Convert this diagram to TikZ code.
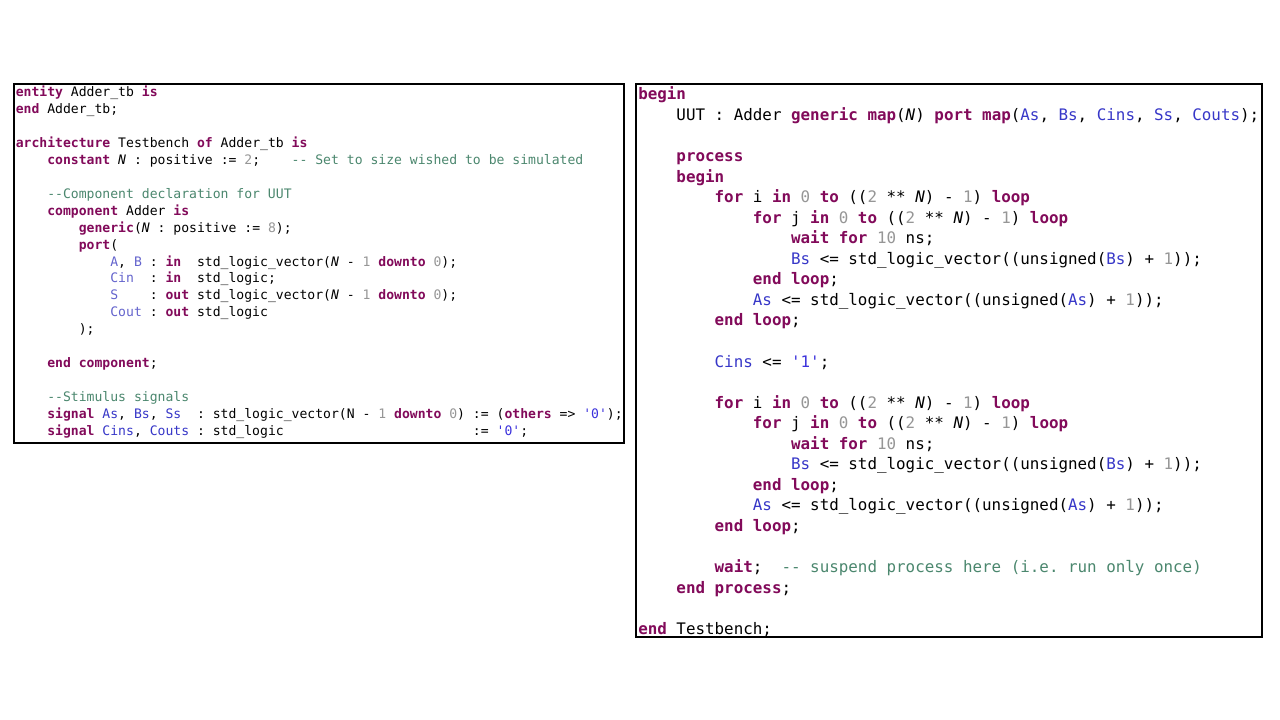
\documentclass[tikz,border=0pt]{standalone}
\usepackage{fontspec}
\setmonofont{DejaVu Sans Mono}
\usepackage{tikz}

\definecolor{kwcol}{RGB}{130,10,90}
\definecolor{sigcol}{RGB}{55,55,200}
\definecolor{prtcol}{RGB}{100,100,205}
\definecolor{chrcol}{RGB}{60,50,220}
\definecolor{nmbcol}{RGB}{150,150,150}
\definecolor{cmtcol}{RGB}{75,135,110}

\newcommand\kw[1]{\textcolor{kwcol}{\bfseries #1}}
\newcommand\sig[1]{\textcolor{sigcol}{#1}}
\newcommand\prt[1]{\textcolor{prtcol}{#1}}
\newcommand\chr[1]{\textcolor{chrcol}{#1}}
\newcommand\nmb[1]{\textcolor{nmbcol}{#1}}
\newcommand\cmt[1]{\textcolor{cmtcol}{#1}}
\newcommand\gN{\textit{N}}
\newcommand\qt{\textquotesingle}
\newcommand\tb{~~~~}

\tikzset{
  panel/.style={draw=black, line width=0.9pt, fill=white},
  lcode/.style={anchor=base west, inner sep=0pt, font=\ttfamily\frenchspacing\fontsize{9.82pt}{12pt}\selectfont},
  rcode/.style={anchor=base west, inner sep=0pt, font=\ttfamily\frenchspacing\fontsize{11.9pt}{14pt}\selectfont}
}

\begin{document}
\begin{tikzpicture}[x=0.75pt, y=-0.75pt]
    \useasboundingbox[fill=white] (0,0) rectangle (1280,720);
    \draw[panel] (14,84) rectangle (624,443);
    \draw[panel] (636,84) rectangle (1262,637);

    \node[lcode] (l1) at (15.5,97.0) {\kw{entity} Adder\_tb \kw{is}};
    \node[lcode] (l2) at (15.5,113.9) {\kw{end} Adder\_tb;};
    \node[lcode] (l4) at (15.5,147.7) {\kw{architecture} Testbench \kw{of} Adder\_tb \kw{is}};
    \node[lcode] (l5) at (15.5,164.6) {\tb\kw{constant} \gN{} : positive := \nmb{2};~~~~\cmt{-{}- Set to size wished to be simulated}};
    \node[lcode] (l7) at (15.5,198.4) {\tb\cmt{-{}-Component declaration for UUT}};
    \node[lcode] (l8) at (15.5,215.3) {\tb\kw{component} Adder \kw{is}};
    \node[lcode] (l9) at (15.5,232.2) {\tb\tb\kw{generic}(\gN{} : positive := \nmb{8});};
    \node[lcode] (l10) at (15.5,249.1) {\tb\tb\kw{port}(};
    \node[lcode] (l11) at (15.5,266.0) {\tb\tb\tb\prt{A}, \prt{B} : \kw{in}~~std\_logic\_vector(\gN{} - \nmb{1} \kw{downto} \nmb{0});};
    \node[lcode] (l12) at (15.5,282.9) {\tb\tb\tb\prt{Cin}~~: \kw{in}~~std\_logic;};
    \node[lcode] (l13) at (15.5,299.8) {\tb\tb\tb\prt{S}~~~~: \kw{out} std\_logic\_vector(\gN{} - \nmb{1} \kw{downto} \nmb{0});};
    \node[lcode] (l14) at (15.5,316.7) {\tb\tb\tb\prt{Cout} : \kw{out} std\_logic};
    \node[lcode] (l15) at (15.5,333.6) {\tb\tb);};
    \node[lcode] (l17) at (15.5,367.4) {\tb\kw{end component};};
    \node[lcode] (l19) at (15.5,401.2) {\tb\cmt{-{}-Stimulus signals}};
    \node[lcode] (l20) at (15.5,418.1) {\tb\kw{signal} \sig{As}, \sig{Bs}, \sig{Ss}~~: std\_logic\_vector(N - \nmb{1} \kw{downto} \nmb{0}) := (\kw{others} => \chr{\qt0\qt});};
    \node[lcode] (l21) at (15.5,435.0) {\tb\kw{signal} \sig{Cins}, \sig{Couts} : std\_logic\tb\tb\tb\tb\tb\tb := \chr{\qt0\qt};};

    \node[rcode] (r1) at (638,100.0) {\kw{begin}};
    \node[rcode] (r2) at (638,120.5) {\tb UUT : Adder \kw{generic map}(\gN) \kw{port map}(\sig{As}, \sig{Bs}, \sig{Cins}, \sig{Ss}, \sig{Couts});};
    \node[rcode] (r4) at (638,161.6) {\tb\kw{process}};
    \node[rcode] (r5) at (638,182.2) {\tb\kw{begin}};
    \node[rcode] (r6) at (638,202.7) {\tb\tb\kw{for} i \kw{in} \nmb{0} \kw{to} ((\nmb{2} ** \gN{}) - \nmb{1}) \kw{loop}};
    \node[rcode] (r7) at (638,223.2) {\tb\tb\tb\kw{for} j \kw{in} \nmb{0} \kw{to} ((\nmb{2} ** \gN{}) - \nmb{1}) \kw{loop}};
    \node[rcode] (r8) at (638,243.8) {\tb\tb\tb\tb\kw{wait for} \nmb{10} ns;};
    \node[rcode] (r9) at (638,264.3) {\tb\tb\tb\tb\sig{Bs} <= std\_logic\_vector((unsigned(\sig{Bs}) + \nmb{1}));};
    \node[rcode] (r10) at (638,284.9) {\tb\tb\tb\kw{end loop};};
    \node[rcode] (r11) at (638,305.4) {\tb\tb\tb\sig{As} <= std\_logic\_vector((unsigned(\sig{As}) + \nmb{1}));};
    \node[rcode] (r12) at (638,325.9) {\tb\tb\kw{end loop};};
    \node[rcode] (r14) at (638,367.0) {\tb\tb\sig{Cins} <= \chr{\qt1\qt};};
    \node[rcode] (r16) at (638,408.1) {\tb\tb\kw{for} i \kw{in} \nmb{0} \kw{to} ((\nmb{2} ** \gN{}) - \nmb{1}) \kw{loop}};
    \node[rcode] (r17) at (638,428.6) {\tb\tb\tb\kw{for} j \kw{in} \nmb{0} \kw{to} ((\nmb{2} ** \gN{}) - \nmb{1}) \kw{loop}};
    \node[rcode] (r18) at (638,449.2) {\tb\tb\tb\tb\kw{wait for} \nmb{10} ns;};
    \node[rcode] (r19) at (638,469.7) {\tb\tb\tb\tb\sig{Bs} <= std\_logic\_vector((unsigned(\sig{Bs}) + \nmb{1}));};
    \node[rcode] (r20) at (638,490.3) {\tb\tb\tb\kw{end loop};};
    \node[rcode] (r21) at (638,510.8) {\tb\tb\tb\sig{As} <= std\_logic\_vector((unsigned(\sig{As}) + \nmb{1}));};
    \node[rcode] (r22) at (638,531.3) {\tb\tb\kw{end loop};};
    \node[rcode] (r24) at (638,572.4) {\tb\tb\kw{wait};~~\cmt{-{}- suspend process here (i.e. run only once)}};
    \node[rcode] (r25) at (638,593.0) {\tb\kw{end process};};
    \node[rcode] (r27) at (638,634.0) {\kw{end} Testbench;};
\end{tikzpicture}
\end{document}
